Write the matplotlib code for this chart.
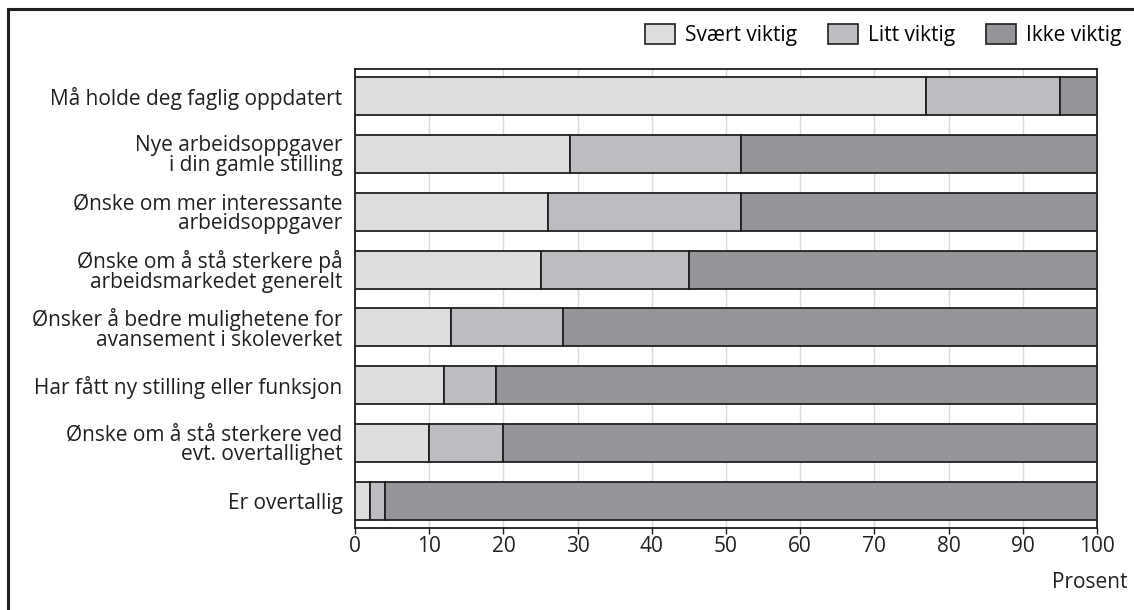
import matplotlib
matplotlib.use("Agg")
import matplotlib.pyplot as plt
from matplotlib.patches import Rectangle, Patch
import numpy as np

plt.rcParams['font.family'] = ['Open Sans', 'DejaVu Sans']

categories = [
    "Må holde deg faglig oppdatert",
    "Nye arbeidsoppgaver\ni din gamle stilling",
    "Ønske om mer interessante\narbeidsoppgaver",
    "Ønske om å stå sterkere på\narbeidsmarkedet generelt",
    "Ønsker å bedre mulighetene for\navansement i skoleverket",
    "Har fått ny stilling eller funksjon",
    "Ønske om å stå sterkere ved\nevt. overtallighet",
    "Er overtallig",
]
svaert = [77, 29, 26, 25, 13, 12, 10, 2]
litt = [18, 23, 26, 20, 15, 7, 10, 2]
ikke = [5, 48, 48, 55, 72, 81, 80, 96]
series_names = ["Svært viktig", "Litt viktig", "Ikke viktig"]
colors = ["#dcdddf", "#bcbdc0", "#939598"]
xticks = [0, 10, 20, 30, 40, 50, 60, 70, 80, 90, 100]

FS = 15
fig = plt.figure(figsize=(11.34, 6.10), dpi=100)
ax = fig.add_axes([355/1134, 1-528/610, (1097-355)/1134, (528-69)/610])

y = np.arange(len(categories))
left = np.zeros(len(categories))
for vals, col, name in zip([svaert, litt, ikke], colors, series_names):
    ax.barh(y, vals, left=left, height=0.655, color=col, edgecolor="#231f20",
            linewidth=1.3, label=name, zorder=3)
    left += np.array(vals)

ax.set_xlim(0, 100)
ax.set_ylim(7.47, -0.47)
ax.set_yticks(y)
ax.set_yticklabels(categories, fontsize=FS, color="#231f20", linespacing=0.92)
ax.set_xticks(xticks)
ax.set_xticklabels([str(t) for t in xticks], fontsize=FS, color="#231f20")
ax.tick_params(axis='y', length=0, pad=9)
ax.tick_params(axis='x', length=4, width=1, color="#231f20", pad=2)
ax.xaxis.grid(True, color="#d9d9d9", linewidth=1, zorder=0)
ax.set_axisbelow(True)
for s in ax.spines.values():
    s.set_color("#231f20")
    s.set_linewidth(1.3)

fig.text(1127/1134, 1-582/610, "Prosent", ha="right", va="center",
         fontsize=FS, color="#231f20")

handles = [Patch(facecolor=c, edgecolor="#231f20", linewidth=1.2) for c in colors]
fig.legend(handles, series_names, loc="upper right",
           bbox_to_anchor=(1121/1134, 1-24/610), ncol=3, frameon=False,
           fontsize=FS, handlelength=1.45, handleheight=1.1,
           handletextpad=0.45, columnspacing=1.5, borderaxespad=0,
           borderpad=0)

# outer frame
fig.add_artist(Rectangle((8/1134, -0.05), 1.2, 1-9/610+0.05,
                         transform=fig.transFigure, fill=False,
                         edgecolor="#231f20", linewidth=2.2, clip_on=False))

fig.savefig("out.png", dpi=100)
